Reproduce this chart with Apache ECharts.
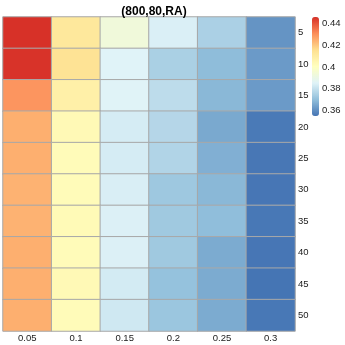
<!DOCTYPE html>
<html>
<head>
<meta charset="utf-8">
<script src="https://cdn.jsdelivr.net/npm/echarts@6/dist/echarts.min.js"></script>
<style>
html, body { margin: 0; padding: 0; background: #fff; }
#main { width: 345px; height: 345px; }
</style>
</head>
<body>
<div id="main"></div>
<script>
var xLabels = ['0.05', '0.1', '0.15', '0.2', '0.25', '0.3'];
var yLabels = ['5', '10', '15', '20', '25', '30', '35', '40', '45', '50'];
// one row per y label, columns follow xLabels
var rows = [
    [0.4458, 0.4117, 0.3932, 0.3842, 0.3752, 0.3614],
    [0.4455, 0.4142, 0.3853, 0.3750, 0.3698, 0.3626],
    [0.4293, 0.4078, 0.3855, 0.3787, 0.3688, 0.3626],
    [0.4247, 0.4034, 0.3833, 0.3770, 0.3656, 0.3560],
    [0.4247, 0.4025, 0.3833, 0.3764, 0.3669, 0.3555],
    [0.4240, 0.4025, 0.3839, 0.3727, 0.3688, 0.3553],
    [0.4240, 0.4030, 0.3845, 0.3730, 0.3700, 0.3556],
    [0.4247, 0.4025, 0.3845, 0.3730, 0.3660, 0.3553],
    [0.4247, 0.4034, 0.3829, 0.3710, 0.3660, 0.3550],
    [0.4247, 0.4025, 0.3820, 0.3721, 0.3660, 0.3556]
];
var legendTicks = [0.36, 0.38, 0.40, 0.42, 0.44];
var colorMin = 0.355;
var colorMax = 0.446;
var palette = ['#4575b4', '#91bfdb', '#e0f3f8', '#ffffbf', '#fee090', '#fc8d59', '#d73027'];

var cells = [];
for (var r = 0; r < rows.length; r++) {
    for (var c = 0; c < rows[r].length; c++) {
        cells.push([c, r, rows[r][c]]);
    }
}

var font = 'Liberation Sans, Arial, sans-serif';
var myChart = echarts.init(document.getElementById('main'));
var option = {
    animation: false,
    title: {
        text: '(800,80,RA)',
        left: 149,
        textAlign: 'center',
        top: 1,
        textStyle: { fontFamily: font, fontSize: 12, fontWeight: 'bold', color: '#000' }
    },
    grid: [
        { left: 3, right: 50, top: 17, bottom: 14 },
        { left: 312, width: 7, top: 17, height: 99 }
    ],
    xAxis: [{
        type: 'category',
        gridIndex: 0,
        data: xLabels,
        axisLine: { show: false },
        axisTick: { show: false },
        splitLine: { show: false },
        axisLabel: { margin: 2, fontFamily: font, fontSize: 9.5, color: '#1a1a1a' }
    }, {
        type: 'value',
        gridIndex: 1,
        show: false
    }],
    yAxis: [{
        type: 'category',
        gridIndex: 0,
        data: yLabels,
        inverse: true,
        position: 'right',
        axisLine: { show: false },
        axisTick: { show: false },
        splitLine: { show: false },
        axisLabel: { margin: 3, fontFamily: font, fontSize: 9.5, color: '#1a1a1a' }
    }, {
        type: 'value',
        gridIndex: 1,
        position: 'right',
        min: colorMin,
        max: colorMax,
        axisLine: { show: false },
        axisTick: { show: false },
        splitLine: { show: false },
        axisLabel: {
            margin: 3,
            fontFamily: font,
            fontSize: 9.5,
            color: '#1a1a1a',
            customValues: legendTicks,
            formatter: function (v) { return String(Math.round(v * 100) / 100); }
        }
    }],
    visualMap: {
        type: 'continuous',
        seriesIndex: 0,
        min: colorMin,
        max: colorMax,
        calculable: false,
        hoverLink: false,
        left: 312,
        top: 17,
        padding: 0,
        itemWidth: 7,
        itemHeight: 99,
        text: null,
        inRange: { color: palette }
    },
    series: [{
        type: 'heatmap',
        xAxisIndex: 0,
        yAxisIndex: 0,
        data: cells,
        itemStyle: { borderColor: '#a8a8a8', borderWidth: 1 },
        emphasis: { disabled: true }
    }]
};
myChart.setOption(option);
</script>
</body>
</html>
